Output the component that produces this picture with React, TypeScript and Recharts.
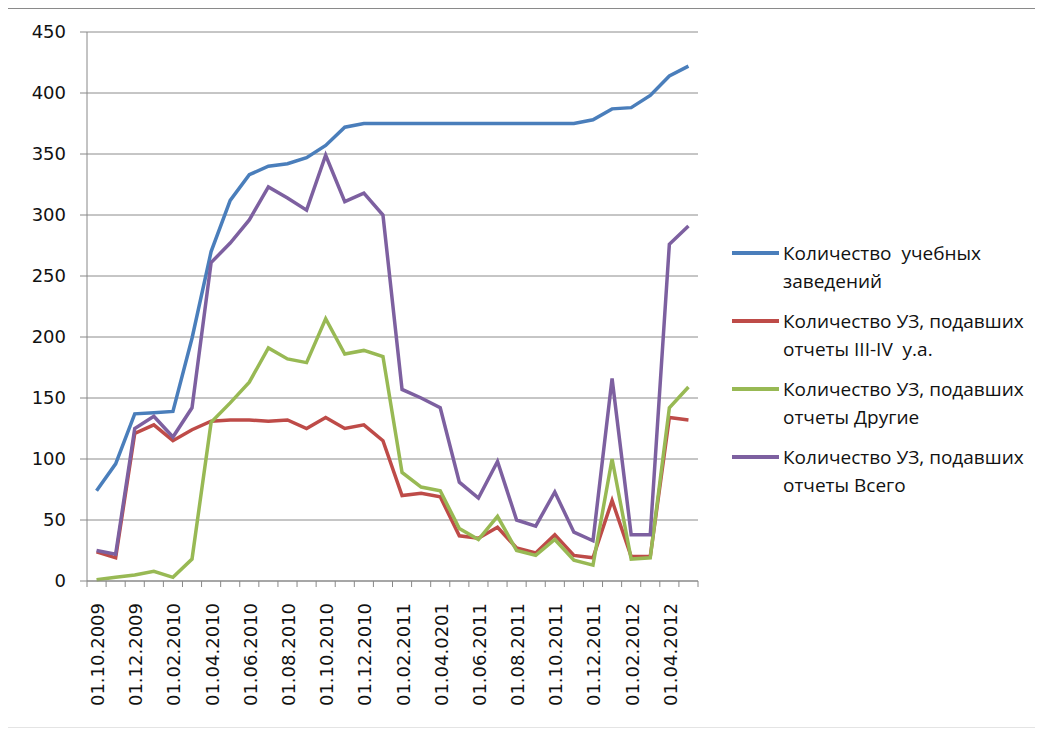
import { LineChart, Line, XAxis, YAxis, CartesianGrid } from 'recharts';

// месяцы (подписи как в оригинале, включая опечатку 01.04.0201)
const months = [
  '01.10.2009', '01.11.2009', '01.12.2009', '01.01.2010', '01.02.2010', '01.03.2010',
  '01.04.2010', '01.05.2010', '01.06.2010', '01.07.2010', '01.08.2010', '01.09.2010',
  '01.10.2010', '01.11.2010', '01.12.2010', '01.01.2011', '01.02.2011', '01.03.2011',
  '01.04.0201', '01.05.2011', '01.06.2011', '01.07.2011', '01.08.2011', '01.09.2011',
  '01.10.2011', '01.11.2011', '01.12.2011', '01.01.2012', '01.02.2012', '01.03.2012',
  '01.04.2012', '01.05.2012',
];

const schools = [74, 96, 137, 138, 139, 199, 270, 312, 333, 340, 342, 347, 357, 372, 375, 375,
  375, 375, 375, 375, 375, 375, 375, 375, 375, 375, 378, 387, 388, 398, 414, 422];
const reportsIIIIV = [24, 19, 121, 128, 115, 124, 131, 132, 132, 131, 132, 125, 134, 125, 128, 115,
  70, 72, 69, 37, 35, 44, 27, 23, 38, 21, 19, 66, 20, 20, 134, 132];
const reportsOther = [1, 3, 5, 8, 3, 18, 130, 146, 163, 191, 182, 179, 215, 186, 189, 184,
  89, 77, 74, 43, 34, 53, 25, 21, 34, 17, 13, 100, 18, 19, 142, 159];
const reportsTotal = [25, 22, 125, 135, 118, 142, 261, 277, 296, 323, 314, 304, 349, 311, 318, 300,
  157, 150, 142, 81, 68, 98, 50, 45, 73, 40, 33, 166, 38, 38, 276, 291];

const yTicks = [0, 50, 100, 150, 200, 250, 300, 350, 400, 450];

const series = [
  { key: 'schools', name: 'Количество  учебных\nзаведений', color: '#4A7EBB' },
  { key: 'r34', name: 'Количество УЗ, подавших\nотчеты III-IV  у.а.', color: '#BE4B48' },
  { key: 'other', name: 'Количество УЗ, подавших\nотчеты Другие', color: '#98B954' },
  { key: 'total', name: 'Количество УЗ, подавших\nотчеты Всего', color: '#7D60A0' },
];

const data = months.map((m, i) => ({
  idx: i,
  month: m,
  schools: schools[i],
  r34: reportsIIIIV[i],
  other: reportsOther[i],
  total: reportsTotal[i],
}));

// засечки между категориями + подписи каждого второго месяца
const xTicks: number[] = [];
for (let i = 0; i <= months.length; i++) xTicks.push(i - 0.5);
for (let i = 0; i < months.length; i += 2) xTicks.push(i);
xTicks.sort((a, b) => a - b);

const XTick = (props: any) => {
  const { x, y, payload } = props;
  const v = payload.value;
  if (!Number.isInteger(v)) {
    return <line x1={x} x2={x} y1={y} y2={y + 6} stroke="#888" strokeWidth={1} />;
  }
  return (
    <text
      x={0}
      y={0}
      dy="0.36em"
      textAnchor="end"
      transform={`translate(${x + 1},${y + 22}) rotate(-90)`}
      fontFamily="DejaVu Sans"
      fontSize={18}
      fill="#111"
    >
      {months[v]}
    </text>
  );
};

export default function App() {
  return (
    <div
      style={{
        position: 'relative',
        width: 1040,
        height: 718,
        margin: '0 0 0 -1px',
        borderTop: '1px solid #8a8a8a',
        borderLeft: '1px solid #8a8a8a',
        borderBottom: '1px solid #e4e4e4',
        background: '#fff',
      }}
    >
      <LineChart width={1030} height={715} data={data} margin={{ top: 23, right: 340, left: 0, bottom: 13 }}>
        <CartesianGrid vertical={false} stroke="#8c8c8c" strokeWidth={1} />
        <XAxis
          dataKey="idx"
          type="number"
          domain={[-0.5, 31.5]}
          ticks={xTicks}
          interval={0}
          height={130}
          tickSize={0}
          tickMargin={0}
          tickLine={false}
          axisLine={{ stroke: '#888' }}
          tick={<XTick />}
        />
        <YAxis
          width={79}
          domain={[0, 450]}
          ticks={yTicks}
          interval={0}
          tickSize={7}
          tickMargin={14}
          axisLine={{ stroke: '#888' }}
          tickLine={{ stroke: '#888' }}
          tick={{ fontFamily: 'DejaVu Sans', fontSize: 18, fill: '#111' }}
        />
        {series.map((s) => (
          <Line
            key={s.key}
            dataKey={s.key}
            name={s.name}
            stroke={s.color}
            strokeWidth={3.5}
            dot={false}
            type="linear"
            isAnimationActive={false}
          />
        ))}
      </LineChart>
      <div style={{ position: 'absolute', left: 724, top: 230 }}>
        {series.map((s) => (
          <div key={s.key} style={{ display: 'flex', alignItems: 'flex-start', marginBottom: 12 }}>
            <div style={{ width: 47, height: 4, background: s.color, marginTop: 12, marginRight: 4 }} />
            <div
              style={{
                fontFamily: '"Open Sans", sans-serif',
                fontSize: 19,
                lineHeight: '28px',
                color: '#111',
                whiteSpace: 'pre',
              }}
            >
              {s.name}
            </div>
          </div>
        ))}
      </div>
    </div>
  );
}
